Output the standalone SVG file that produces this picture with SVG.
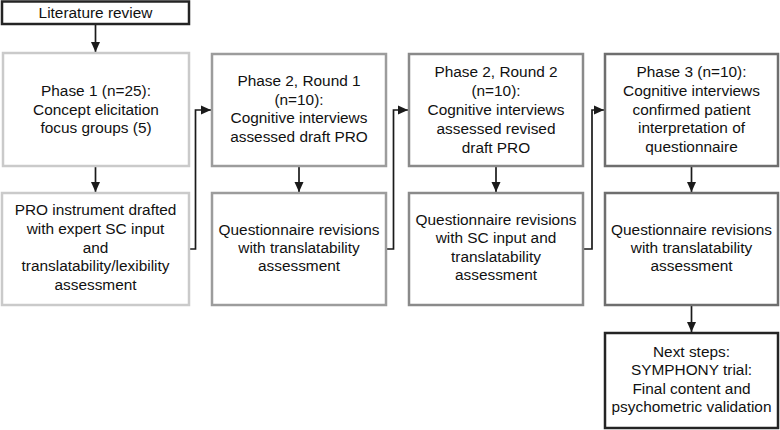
<svg xmlns="http://www.w3.org/2000/svg" width="780" height="430" viewBox="0 0 780 430">
<defs>
<marker id="ah" viewBox="0 0 10 10" refX="10" refY="5" markerWidth="10" markerHeight="10" markerUnits="userSpaceOnUse" orient="auto">
<path d="M0,0.5 L10,5 L0,9.5 z" fill="#1a1a1a"/>
</marker>
<style>
text{font-family:"Liberation Sans",Arial,sans-serif;font-size:15.4px;fill:#111;text-anchor:middle}
rect{fill:#fff;stroke-width:2.5}
.k{stroke:#242424}
.g1{stroke:#cacaca}
.g2{stroke:#9c9c9c}
.g3{stroke:#8a8a8a}
.g4{stroke:#6e6e6e}
.c{fill:none;stroke:#1a1a1a;stroke-width:1.7;marker-end:url(#ah)}
</style>
</defs>
<rect x="0" y="0" width="780" height="430" style="fill:#fff;stroke:none"/>
<g id="connectors">
<path class="c" d="M95.5,25 V52"/>
<path class="c" d="M95.5,167 V192"/>
<path class="c" d="M299,167 V192"/>
<path class="c" d="M496,167 V192"/>
<path class="c" d="M691.5,167 V192"/>
<path class="c" d="M691.5,306 V332"/>
<path class="c" d="M190,249 H195.5 V110 H211"/>
<path class="c" d="M387,249 H393.5 V110 H408"/>
<path class="c" d="M584,249 H592 V110 H604"/>
</g>
<g id="lit">
<rect class="k" x="2" y="1.5" width="187" height="22.5"/>
<text x="95.5" y="18">Literature review</text>
</g>
<g id="phase1">
<rect class="g1" x="3" y="53" width="186" height="113"/>
<text x="96" y="96">Phase 1 (n=25):</text>
<text x="96" y="114.5">Concept elicitation</text>
<text x="96" y="133">focus groups (5)</text>
</g>
<g id="phase1b">
<rect class="g1" x="2" y="193" width="187" height="112"/>
<text x="95.5" y="215">PRO instrument drafted</text>
<text x="95.5" y="233.75">with expert SC input</text>
<text x="95.5" y="252.5">and</text>
<text x="95.5" y="271.25">translatability/lexibility</text>
<text x="95.5" y="290">assessment</text>
</g>
<g id="r1">
<rect class="g2" x="212" y="54" width="174" height="112"/>
<text x="299" y="86">Phase 2, Round 1</text>
<text x="299" y="104.5">(n=10):</text>
<text x="299" y="123">Cognitive interviews</text>
<text x="299" y="141.5">assessed draft PRO</text>
</g>
<g id="r1b">
<rect class="g2" x="212" y="193" width="174" height="112"/>
<text x="299" y="234.5">Questionnaire revisions</text>
<text x="299" y="252.5">with translatability</text>
<text x="299" y="270.5">assessment</text>
</g>
<g id="r2">
<rect class="g3" x="409" y="54" width="174" height="112"/>
<text x="496" y="77">Phase 2, Round 2</text>
<text x="496" y="95.9">(n=10):</text>
<text x="496" y="114.8">Cognitive interviews</text>
<text x="496" y="133.7">assessed revised</text>
<text x="496" y="152.6">draft PRO</text>
</g>
<g id="r2b">
<rect class="g3" x="409" y="193" width="174" height="112"/>
<text x="496" y="225">Questionnaire revisions</text>
<text x="496" y="243.3">with SC input and</text>
<text x="496" y="261.6">translatability</text>
<text x="496" y="280">assessment</text>
</g>
<g id="p3">
<rect class="g4" x="605" y="54" width="173" height="112"/>
<text x="691.5" y="77">Phase 3 (n=10):</text>
<text x="691.5" y="95.75">Cognitive interviews</text>
<text x="691.5" y="114.5">confirmed patient</text>
<text x="691.5" y="133.25">interpretation of</text>
<text x="691.5" y="152">questionnaire</text>
</g>
<g id="p3b">
<rect class="g4" x="605" y="193" width="173" height="112"/>
<text x="691.5" y="234.5">Questionnaire revisions</text>
<text x="691.5" y="252.5">with translatability</text>
<text x="691.5" y="270.5">assessment</text>
</g>
<g id="next">
<rect class="k" x="605" y="333" width="173" height="95"/>
<text x="691.5" y="357">Next steps:</text>
<text x="691.5" y="375.3">SYMPHONY trial:</text>
<text x="691.5" y="393.6">Final content and</text>
<text x="691.5" y="412">psychometric validation</text>
</g>
</svg>
